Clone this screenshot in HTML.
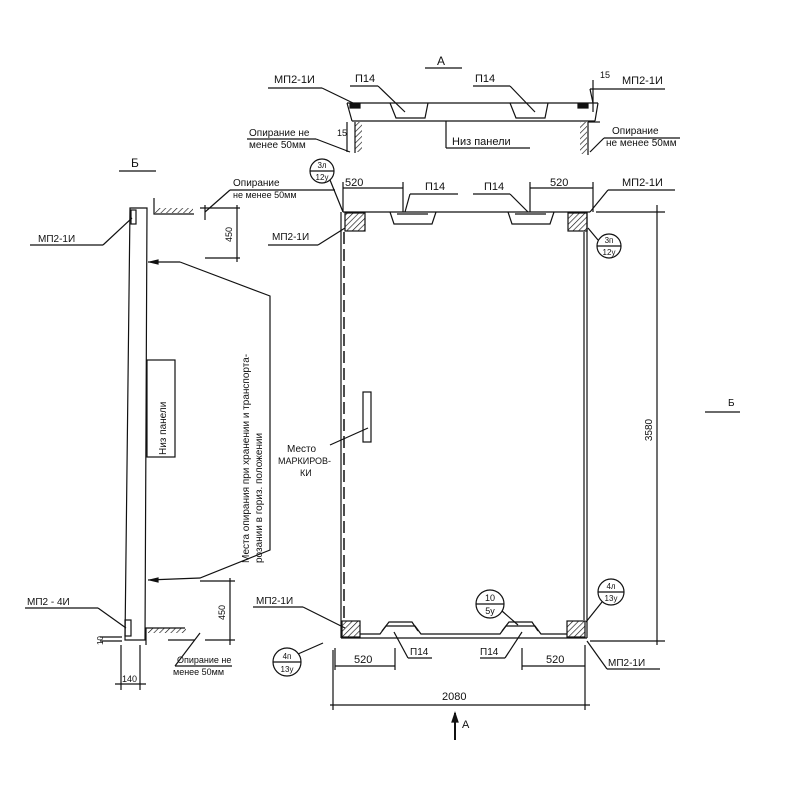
<!DOCTYPE html>
<html><head><meta charset="utf-8"><style>
html,body{margin:0;padding:0;background:#fff}
svg{display:block}
text{font-family:"Liberation Sans",sans-serif;fill:#111}
</style></head><body>
<svg width="800" height="800" viewBox="0 0 800 800" xmlns="http://www.w3.org/2000/svg" stroke="#111" fill="none" stroke-width="1.2">
<defs>
<pattern id="h" width="4" height="4" patternUnits="userSpaceOnUse" patternTransform="rotate(45)"><line x1="0" y1="0" x2="0" y2="4" stroke="#111" stroke-width="1.3"/></pattern>
</defs>
<!-- ===== Section A (top) ===== -->
<line x1="425" y1="68" x2="462" y2="68"/>
<text x="437" y="65" font-size="12" stroke="none">А</text>
<text x="274" y="83" font-size="11" stroke="none">МП2-1И</text>
<line x1="268" y1="88" x2="322" y2="88"/><line x1="322" y1="88" x2="353" y2="103"/>
<text x="355" y="82" font-size="11" stroke="none">П14</text>
<line x1="350" y1="86" x2="378" y2="86"/><line x1="378" y1="86" x2="405" y2="112"/>
<text x="475" y="82" font-size="11" stroke="none">П14</text>
<line x1="473" y1="86" x2="510" y2="86"/><line x1="510" y1="86" x2="535" y2="112"/>
<text x="622" y="84" font-size="11" stroke="none">МП2-1И</text>
<line x1="590" y1="89" x2="665" y2="89"/><line x1="590" y1="89" x2="593" y2="103"/>
<text x="600" y="78" font-size="9" stroke="none">15</text>
<line x1="593" y1="80" x2="593" y2="112"/>
<!-- profile -->
<path d="M347 103 H598 M352 121 H595 M347 103 L352 121 M598 103 L595 121"/>
<path d="M390 103 L396 118 H425 L428 103 M510 103 L516 118 H545 L548 103"/>
<rect x="350" y="104" width="10" height="4" fill="#111"/>
<rect x="578" y="104" width="10" height="4" fill="#111"/>
<line x1="446" y1="121" x2="446" y2="148"/><line x1="446" y1="148" x2="530" y2="148"/>
<text x="452" y="145" font-size="11" stroke="none">Низ панели</text>
<path d="M355 122 V153" /><rect x="355" y="122" width="7" height="30" fill="url(#h)" stroke="none"/>
<path d="M588 122 V155"/><rect x="580" y="122" width="7" height="32" fill="url(#h)" stroke="none"/>
<line x1="588" y1="122" x2="600" y2="122"/>
<text x="249" y="136" font-size="10" stroke="none">Опирание не</text>
<text x="249" y="148" font-size="10" stroke="none">менее 50мм</text>
<line x1="247" y1="139" x2="316" y2="139"/><line x1="316" y1="139" x2="350" y2="152"/>
<text x="337" y="136" font-size="9" stroke="none">15</text>
<line x1="347" y1="122" x2="347" y2="152"/>
<text x="612" y="134" font-size="10" stroke="none">Опирание</text>
<text x="606" y="146" font-size="10" stroke="none">не менее 50мм</text>
<line x1="604" y1="138" x2="680" y2="138"/><line x1="604" y1="138" x2="590" y2="152"/>
<!-- ===== Plan view ===== -->
<circle cx="322" cy="171" r="12"/><line x1="310" y1="171" x2="334" y2="171"/>
<text x="322" y="168" font-size="8" text-anchor="middle" stroke="none">3л</text>
<text x="322" y="180" font-size="8" text-anchor="middle" stroke="none">12у</text>
<line x1="330" y1="180" x2="343" y2="212"/>
<text x="345" y="186" font-size="11" stroke="none">520</text>
<line x1="343" y1="188" x2="403" y2="188"/><line x1="343" y1="182" x2="343" y2="212"/><line x1="403" y1="182" x2="403" y2="212"/>
<text x="425" y="190" font-size="11" stroke="none">П14</text>
<line x1="410" y1="194" x2="458" y2="194"/><line x1="410" y1="194" x2="405" y2="212"/>
<text x="484" y="190" font-size="11" stroke="none">П14</text>
<line x1="473" y1="194" x2="510" y2="194"/><line x1="510" y1="194" x2="528" y2="212"/>
<text x="550" y="186" font-size="11" stroke="none">520</text>
<line x1="530" y1="188" x2="593" y2="188"/><line x1="530" y1="182" x2="530" y2="212"/><line x1="593" y1="182" x2="593" y2="212"/>
<text x="622" y="186" font-size="11" stroke="none">МП2-1И</text>
<line x1="608" y1="190" x2="675" y2="190"/><line x1="608" y1="190" x2="590" y2="212"/>
<!-- outline -->
<line x1="343" y1="212" x2="590" y2="212"/>
<path d="M344 232 V620" stroke-dasharray="12 5" stroke-width="1.5"/>
<line x1="341" y1="212" x2="341" y2="638"/>
<line x1="584" y1="232" x2="584" y2="620"/><line x1="587" y1="212" x2="587" y2="638"/>
<rect x="345" y="213" width="20" height="18" fill="url(#h)"/>
<rect x="568" y="213" width="19" height="18" fill="url(#h)"/>
<path d="M390 212 L394 224 H432 L436 212 M508 212 L512 224 H550 L554 212"/>
<path d="M397 214 H428 M515 214 H546"/>
<text x="272" y="240" font-size="10" stroke="none">МП2-1И</text>
<line x1="268" y1="245" x2="318" y2="245"/><line x1="318" y1="245" x2="345" y2="228"/>
<circle cx="609" cy="246" r="12"/><line x1="597" y1="246" x2="621" y2="246"/>
<text x="609" y="243" font-size="8" text-anchor="middle" stroke="none">3п</text>
<text x="609" y="255" font-size="8" text-anchor="middle" stroke="none">12у</text>
<line x1="598" y1="240" x2="588" y2="228"/>
<!-- 3580 dim -->
<line x1="596" y1="212" x2="665" y2="212"/><line x1="590" y1="641" x2="665" y2="641"/>
<line x1="657" y1="205" x2="657" y2="645"/>
<text x="652" y="430" font-size="10" stroke="none" transform="rotate(-90 652 430)" text-anchor="middle">3580</text>
<!-- Б arrow -->
<line x1="705" y1="412" x2="740" y2="412"/>
<text x="728" y="406" font-size="10" stroke="none">Б</text>
<!-- marking -->
<rect x="363" y="392" width="8" height="50" />
<line x1="330" y1="445" x2="368" y2="428"/>
<text x="287" y="452" font-size="10" stroke="none">Место</text>
<text x="278" y="464" font-size="9" stroke="none">МАРКИРОВ-</text>
<text x="300" y="476" font-size="9" stroke="none">КИ</text>
<!-- bottom -->
<line x1="341" y1="638" x2="587" y2="638"/>
<rect x="342" y="621" width="18" height="16" fill="url(#h)"/>
<rect x="567" y="621" width="18" height="16" fill="url(#h)"/>
<path d="M360 634 H380 L386 626 H415 L421 634 H500 L506 626 H535 L541 634 H567"/>
<path d="M382 631 L389 622 H412 L418 631 M502 631 L509 622 H532 L538 631"/>
<text x="256" y="604" font-size="10" stroke="none">МП2-1И</text>
<line x1="253" y1="607" x2="303" y2="607"/><line x1="303" y1="607" x2="345" y2="628"/>
<circle cx="490" cy="604" r="14"/><line x1="476" y1="604" x2="504" y2="604"/>
<text x="490" y="601" font-size="9" text-anchor="middle" stroke="none">10</text>
<text x="490" y="614" font-size="9" text-anchor="middle" stroke="none">5у</text>
<line x1="502" y1="611" x2="518" y2="625"/>
<circle cx="611" cy="592" r="13"/><line x1="598" y1="592" x2="624" y2="592"/>
<text x="611" y="589" font-size="8" text-anchor="middle" stroke="none">4л</text>
<text x="611" y="601" font-size="8" text-anchor="middle" stroke="none">13у</text>
<line x1="602" y1="602" x2="586" y2="622"/>
<circle cx="287" cy="662" r="14"/><line x1="273" y1="662" x2="301" y2="662"/>
<text x="287" y="659" font-size="8" text-anchor="middle" stroke="none">4п</text>
<text x="287" y="672" font-size="8" text-anchor="middle" stroke="none">13у</text>
<line x1="298" y1="654" x2="323" y2="643"/>
<text x="354" y="663" font-size="11" stroke="none">520</text>
<line x1="335" y1="666" x2="395" y2="666"/><line x1="335" y1="648" x2="335" y2="670"/><line x1="395" y1="648" x2="395" y2="670"/>
<text x="410" y="655" font-size="10" stroke="none">П14</text>
<line x1="408" y1="658" x2="432" y2="658"/><line x1="408" y1="658" x2="394" y2="632"/>
<text x="480" y="655" font-size="10" stroke="none">П14</text>
<line x1="480" y1="658" x2="505" y2="658"/><line x1="505" y1="658" x2="522" y2="632"/>
<text x="546" y="663" font-size="11" stroke="none">520</text>
<line x1="522" y1="666" x2="585" y2="666"/><line x1="522" y1="648" x2="522" y2="670"/>
<text x="608" y="666" font-size="10" stroke="none">МП2-1И</text>
<line x1="607" y1="669" x2="660" y2="669"/><line x1="607" y1="669" x2="587" y2="641"/>
<text x="442" y="700" font-size="11" stroke="none">2080</text>
<line x1="330" y1="705" x2="590" y2="705"/>
<line x1="333" y1="650" x2="333" y2="710"/><line x1="585" y1="645" x2="585" y2="710"/>
<line x1="455" y1="713" x2="455" y2="740" stroke-width="2"/>
<path d="M452 722 L455 713 L458 722Z" fill="#111"/>
<text x="462" y="728" font-size="11" stroke="none">А</text>
<!-- ===== View Б (left) ===== -->
<line x1="119" y1="171" x2="156" y2="171"/>
<text x="131" y="167" font-size="12" stroke="none">Б</text>
<path d="M130 208 L147 208 L145 640 L125 640 Z"/>
<rect x="131" y="210" width="5" height="14"/>
<rect x="125" y="620" width="6" height="16"/>
<text x="38" y="242" font-size="10" stroke="none">МП2-1И</text>
<line x1="30" y1="245" x2="103" y2="245"/><line x1="103" y1="245" x2="132" y2="218"/>
<path d="M154 198 V214 H194"/><rect x="155" y="208" width="38" height="5" fill="url(#h)" stroke="none"/>
<text x="233" y="186" font-size="10" stroke="none">Опирание</text>
<text x="233" y="198" font-size="9" stroke="none">не менее 50мм</text>
<line x1="230" y1="190" x2="335" y2="190"/><line x1="230" y1="190" x2="205" y2="212"/>
<line x1="205" y1="205" x2="205" y2="220"/>
<line x1="200" y1="208" x2="240" y2="208"/><line x1="205" y1="258" x2="240" y2="258"/>
<line x1="237" y1="205" x2="237" y2="262"/>
<text x="232" y="242" font-size="9" stroke="none" transform="rotate(-90 232 242)">450</text>
<line x1="148" y1="262" x2="180" y2="262"/>
<path d="M150 262 L158 260 L158 264Z" fill="#111"/>
<path d="M180 262 L270 296 V550 L200 578 L148 580"/>
<path d="M150 580 L158 578 L158 582Z" fill="#111"/>
<rect x="147" y="360" width="28" height="97"/>
<text x="166" y="455" font-size="10" stroke="none" transform="rotate(-90 166 455)">Низ панели</text>
<text x="249" y="563" font-size="10" stroke="none" transform="rotate(-90 249 563)">Места опирания при хранении и транспорта-</text>
<text x="262" y="563" font-size="10" stroke="none" transform="rotate(-90 262 563)">розании в гориз. положении</text>
<line x1="200" y1="581" x2="235" y2="581"/><line x1="205" y1="640" x2="235" y2="640"/>
<line x1="230" y1="578" x2="230" y2="645"/>
<text x="225" y="620" font-size="9" stroke="none" transform="rotate(-90 225 620)">450</text>
<text x="27" y="605" font-size="10" stroke="none">МП2 - 4И</text>
<line x1="25" y1="608" x2="98" y2="608"/><line x1="98" y1="608" x2="126" y2="628"/>
<path d="M146 645 V628 H185"/><rect x="148" y="628" width="38" height="5" fill="url(#h)" stroke="none"/>
<line x1="168" y1="640" x2="195" y2="640"/>
<text x="177" y="663" font-size="9" stroke="none">Опирание не</text>
<text x="173" y="675" font-size="9" stroke="none">менее 50мм</text>
<line x1="175" y1="666" x2="232" y2="666"/><line x1="175" y1="666" x2="200" y2="633"/>
<text x="103" y="645" font-size="8" stroke="none" transform="rotate(-90 103 645)">10</text>
<line x1="100" y1="637" x2="122" y2="637"/><line x1="100" y1="641" x2="122" y2="641"/>
<line x1="121" y1="645" x2="121" y2="690"/><line x1="140" y1="645" x2="140" y2="690"/>
<line x1="115" y1="684" x2="146" y2="684"/>
<text x="122" y="682" font-size="9" stroke="none">140</text>
</svg>
</body></html>
